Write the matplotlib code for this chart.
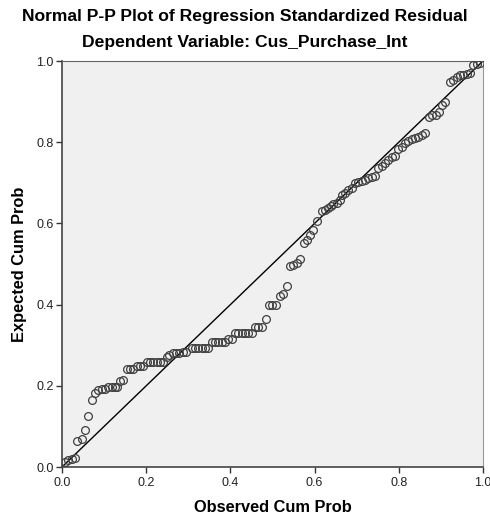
import matplotlib
matplotlib.use("Agg")
import matplotlib.pyplot as plt
import numpy as np

# observed vs expected cumulative probabilities
observed = [0.007, 0.014, 0.024, 0.031, 0.036, 0.047, 0.055, 0.062, 0.071, 0.078,
            0.086, 0.095, 0.102, 0.109, 0.119, 0.126, 0.131, 0.138, 0.145, 0.154,
            0.162, 0.169, 0.178, 0.185, 0.192, 0.202, 0.209, 0.216, 0.226, 0.233,
            0.240, 0.249, 0.254, 0.264, 0.271, 0.278, 0.287, 0.295, 0.309, 0.316,
            0.323, 0.333, 0.340, 0.347, 0.356, 0.363, 0.371, 0.380, 0.387, 0.394,
            0.404, 0.411, 0.418, 0.428, 0.435, 0.442, 0.451, 0.458, 0.466, 0.475,
            0.485, 0.492, 0.499, 0.508, 0.518, 0.525, 0.534, 0.542, 0.549, 0.558,
            0.565, 0.575, 0.582, 0.589, 0.596, 0.606, 0.618, 0.625, 0.632, 0.639,
            0.644, 0.653, 0.660, 0.665, 0.672, 0.679, 0.689, 0.696, 0.703, 0.713,
            0.720, 0.727, 0.736, 0.743, 0.751, 0.760, 0.767, 0.774, 0.784, 0.791,
            0.798, 0.808, 0.815, 0.822, 0.831, 0.838, 0.846, 0.855, 0.862, 0.872,
            0.879, 0.888, 0.895, 0.903, 0.910, 0.922, 0.929, 0.938, 0.945, 0.952,
            0.962, 0.969, 0.976, 0.986, 0.993]
expected = [0.012, 0.017, 0.020, 0.022, 0.064, 0.069, 0.091, 0.126, 0.165, 0.182,
            0.190, 0.192, 0.192, 0.197, 0.197, 0.197, 0.197, 0.212, 0.214, 0.241,
            0.241, 0.241, 0.249, 0.249, 0.249, 0.259, 0.259, 0.259, 0.259, 0.259,
            0.259, 0.271, 0.276, 0.281, 0.281, 0.281, 0.284, 0.284, 0.293, 0.293,
            0.293, 0.293, 0.293, 0.293, 0.307, 0.307, 0.307, 0.307, 0.307, 0.316,
            0.316, 0.330, 0.330, 0.330, 0.330, 0.330, 0.330, 0.345, 0.345, 0.345,
            0.365, 0.399, 0.399, 0.399, 0.421, 0.426, 0.446, 0.495, 0.498, 0.502,
            0.512, 0.552, 0.559, 0.571, 0.584, 0.606, 0.631, 0.633, 0.638, 0.643,
            0.648, 0.650, 0.658, 0.670, 0.675, 0.682, 0.687, 0.700, 0.702, 0.704,
            0.707, 0.712, 0.714, 0.717, 0.736, 0.741, 0.749, 0.756, 0.764, 0.766,
            0.783, 0.788, 0.798, 0.803, 0.808, 0.810, 0.813, 0.818, 0.823, 0.862,
            0.867, 0.867, 0.874, 0.892, 0.899, 0.948, 0.953, 0.961, 0.966, 0.966,
            0.968, 0.970, 0.990, 0.993, 0.995]
ticks = [0.0, 0.2, 0.4, 0.6, 0.8, 1.0]

plt.rcParams['font.family'] = ['Liberation Sans', 'DejaVu Sans']

fig = plt.figure(figsize=(4.9, 5.17), dpi=100)
ax = fig.add_axes([62 / 490, 50 / 517, 421 / 490, 406 / 517])
ax.set_facecolor('#f0f0f0')

ax.plot([0, 1], [0, 1], color='black', lw=1.0, zorder=2)
ax.plot(observed, expected, 'o', ms=5.6, mfc='none', mec='#404040', mew=0.9, zorder=3)

ax.set_xlim(0, 1)
ax.set_ylim(0, 1)
ax.set_xticks(ticks)
ax.set_yticks(ticks)
ax.set_xticklabels([f"{t:.1f}" for t in ticks])
ax.set_yticklabels([f"{t:.1f}" for t in ticks])
ax.tick_params(direction='out', length=4.5, width=1, colors='#333333', labelsize=9,
               labelcolor='#222222', pad=1.5)
ax.tick_params(axis='x', pad=2.5)

for side in ['left', 'bottom']:
    ax.spines[side].set_color('#444444')
    ax.spines[side].set_linewidth(1.2)
ax.spines['top'].set_color('#666666')
ax.spines['right'].set_color('#999999')

ax.set_xlabel('Observed Cum Prob', fontsize=11.8, fontweight='bold', labelpad=8)
ax.set_ylabel('Expected Cum Prob', fontsize=11.8, fontweight='bold', labelpad=7)

fig.text(0.5, 1 - 16 / 517, 'Normal P-P Plot of Regression Standardized Residual',
         ha='center', va='center', fontsize=12.6, fontweight='bold')
fig.text(0.5, 1 - 42 / 517, 'Dependent Variable: Cus_Purchase_Int',
         ha='center', va='center', fontsize=12.6, fontweight='bold')

fig.savefig('out.png', dpi=100)
